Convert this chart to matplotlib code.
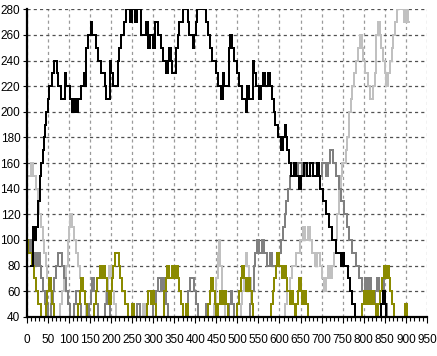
import matplotlib
matplotlib.use("Agg")
import matplotlib.pyplot as plt
from matplotlib.ticker import MultipleLocator

plt.rcParams['font.family'] = ['Liberation Sans Narrow', 'Liberation Sans', 'DejaVu Sans']

# step series: (x, y) breakpoints, held until next point
black_pts = [(10, 80), (15, 110), (19, 100), (22, 110), (27, 130), (32, 150), (35, 160), (38, 170),
             (41, 180), (44, 190), (47, 200), (51, 210), (54, 220), (58, 220),
             (61, 230), (65, 240), (69, 240), (71, 230), (74, 220), (78, 220), (82, 210), (86, 210),
             (90, 230), (94, 220), (98, 220), (102, 210), (107, 200), (112, 210), (117, 200),
             (122, 210), (126, 210), (130, 220), (135, 230), (138, 220), (140, 240),
             (142, 250), (146, 260), (150, 260), (153, 270), (156, 260), (162, 260), (165, 250), (169, 240),
             (173, 240), (177, 230), (181, 230), (185, 220), (189, 210), (193, 210), (197, 240), (201, 230),
             (205, 220), (213, 220), (216, 240), (220, 250), (224, 260), (228, 260), (232, 270), (236, 280),
             (245, 270), (250, 280), (257, 270), (262, 280), (271, 260), (279, 260), (283, 270), (287, 250),
             (293, 260), (299, 250), (305, 270), (311, 260), (315, 260), (319, 250), (323, 240), (327, 240),
             (331, 230), (335, 240), (339, 250), (343, 240), (346, 230), (350, 230), (354, 250), (358, 260),
             (362, 270), (366, 270), (370, 280), (382, 270), (386, 260), (390, 260), (394, 250), (398, 260),
             (401, 270), (405, 280),
             (426, 270), (430, 260), (434, 250), (437, 250), (441, 240), (445, 240), (449, 230), (453, 220),
             (457, 220), (461, 210), (465, 230), (469, 220), (476, 220), (480, 250), (483, 260), (487, 250),
             (491, 240), (496, 240), (500, 230), (504, 220), (508, 220), (512, 210), (516, 210), (520, 200),
             (524, 220), (528, 210), (532, 210), (536, 240), (540, 230), (545, 220), (549, 220), (552, 210),
             (556, 220), (560, 230), (566, 220), (572, 230), (578, 220), (582, 210),
             (586, 200), (590, 190), (596, 180), (601, 180), (604, 170), (608, 180), (612, 190), (615, 180),
             (619, 170), (623, 160), (628, 150), (634, 160), (640, 150), (646, 140), (652, 150), (658, 160),
             (666, 150), (672, 160), (680, 150), (688, 160), (694, 150), (697, 140), (703, 130), (710, 120),
             (717, 110), (724, 100), (731, 100), (735, 90), (741, 90), (745, 80), (749, 90), (753, 80),
             (760, 80), (763, 70), (767, 60), (772, 50), (777, 50), (780, 40), (842, 50), (846, 60),
             (850, 50), (854, 40), (860, 40)]

dgray_pts = [(0, 100), (4, 90), (8, 100), (12, 90), (16, 80), (20, 90), (24, 80), (28, 90), (32, 80),
             (35, 70), (39, 60), (43, 50), (50, 40), (58, 50), (62, 60), (66, 70), (70, 80), (75, 90),
             (83, 80), (89, 70), (94, 60), (98, 50), (103, 40), (112, 50), (116, 60), (126, 50), (130, 40),
             (148, 50), (152, 60), (156, 70), (161, 60), (165, 50), (169, 40), (185, 50), (190, 60),
             (194, 50), (198, 40), (262, 50), (268, 40), (300, 50), (306, 60), (312, 70), (318, 60),
             (322, 70), (327, 60), (331, 50), (335, 40), (380, 50), (384, 60), (388, 70), (394, 70),
             (398, 60), (402, 50), (406, 40), (425, 50), (429, 40), (480, 50), (484, 60), (488, 50),
             (492, 40), (530, 50), (535, 60), (539, 80), (543, 90), (547, 100), (552, 90), (558, 100),
             (564, 90), (571, 80), (577, 90), (582, 80), (596, 90), (604, 100),
             (608, 110), (612, 120), (616, 130), (620, 140), (624, 150), (628, 160), (636, 150), (644, 160),
             (654, 150), (662, 160), (672, 150), (680, 160), (690, 150), (700, 160), (710, 150), (716, 160),
             (720, 170), (727, 160), (733, 150), (737, 150), (741, 140), (745, 130), (749, 130), (753, 120),
             (757, 120), (761, 110), (765, 100), (769, 100), (773, 90), (777, 90), (781, 80), (785, 80),
             (789, 70), (793, 70), (797, 60), (802, 70), (807, 60), (813, 70), (818, 60), (823, 50),
             (827, 60), (832, 70), (837, 60), (843, 70), (847, 60), (851, 50), (855, 40)]

lgray_pts = [(5, 150), (11, 160), (16, 150), (21, 140), (26, 130), (30, 120),
             (34, 110), (38, 100), (42, 90), (45, 80), (49, 70), (53, 60), (58, 50), (64, 40),
             (80, 50), (85, 60), (89, 70), (93, 80), (97, 100), (100, 110), (104, 120), (108, 110),
             (112, 100), (116, 90), (121, 80), (126, 70), (131, 60), (138, 50), (142, 40), (185, 50),
             (189, 60), (193, 70), (196, 80), (200, 70), (203, 60), (207, 50), (211, 40), (250, 50),
             (255, 40), (262, 50), (268, 40), (275, 50), (280, 40), (445, 50), (449, 70), (453, 90),
             (456, 100), (460, 80), (463, 60), (467, 50), (471, 40), (508, 50), (512, 60), (516, 80),
             (520, 90), (524, 80), (528, 70), (532, 50), (536, 40), (612, 50), (618, 60), (624, 70),
             (630, 80), (640, 90), (648, 100), (655, 110), (661, 100), (667, 110), (672, 100), (678, 90),
             (684, 80), (690, 90), (696, 80), (700, 70), (705, 60), (711, 70), (716, 80), (721, 70),
             (725, 80), (729, 90), (733, 100), (737, 120), (741, 140), (745, 150), (749, 160), (753, 160),
             (757, 170), (761, 180), (765, 200), (769, 210), (773, 220), (777, 230), (781, 240), (786, 250),
             (790, 260), (795, 250), (798, 240), (802, 230), (810, 220), (814, 210), (822, 220), (826, 230),
             (830, 260), (834, 270), (838, 260), (842, 250), (846, 240), (850, 230), (854, 220), (858, 230),
             (862, 240), (866, 250), (870, 260), (875, 270), (880, 280), (896, 270), (900, 280), (905, 270),
             (908, 270)]

olive_pts = [(0, 100), (3, 90), (8, 90), (12, 80), (17, 70), (21, 60), (26, 50), (31, 50), (35, 40),
             (45, 50), (49, 60), (53, 70), (57, 60), (61, 50), (66, 40), (122, 50), (126, 60),
             (130, 70), (134, 60), (138, 50), (143, 40), (160, 50), (164, 60), (168, 70), (173, 80),
             (178, 70), (183, 80), (187, 70), (191, 60), (195, 50), (199, 60), (203, 70), (206, 80),
             (209, 90), (215, 90), (218, 80), (222, 70), (227, 60), (233, 50), (240, 40), (250, 50),
             (254, 40), (285, 50), (289, 60), (294, 50), (299, 60), (303, 50), (307, 40), (326, 60),
             (330, 70), (334, 80), (339, 70), (344, 80), (350, 70), (354, 80), (358, 70),
             (362, 60), (366, 50), (370, 40), (378, 50), (382, 40), (430, 50), (434, 60), (438, 70),
             (442, 60), (446, 50), (450, 40), (455, 50), (459, 60), (464, 50), (469, 60), (473, 50),
             (477, 40), (500, 50), (504, 60), (508, 70), (512, 80), (516, 70), (520, 60), (525, 70),
             (530, 60), (534, 50), (538, 40), (580, 50), (584, 60), (588, 70), (591, 80),
             (595, 90), (599, 80), (605, 70), (610, 80), (615, 70), (619, 60), (624, 50),
             (629, 60), (633, 50), (637, 40), (640, 50), (643, 60), (646, 70), (650, 60), (654, 50),
             (659, 60), (663, 50), (667, 40), (796, 50), (800, 60), (805, 50), (810, 60), (815, 50),
             (820, 60), (824, 50), (828, 40), (835, 50), (839, 60), (843, 70), (847, 80), (851, 70),
             (855, 80), (859, 70), (863, 60), (867, 50), (871, 40), (898, 50), (902, 40), (906, 40)]

series = [(lgray_pts, '#c0c0c0'), (dgray_pts, '#808080'), (olive_pts, '#8a8a00'), (black_pts, '#000000')]

fig = plt.figure(figsize=(4.37, 3.56), dpi=100)
ax = fig.add_axes([0.061, 0.110, 0.916, 0.864])

for pts, col in series:
    xs = [p[0] for p in pts]
    ys = [p[1] for p in pts]
    ax.step(xs, ys, where='post', color=col, lw=1.2, antialiased=False)

ax.set_xlim(0, 950)
ax.set_ylim(40, 280)
ax.xaxis.set_major_locator(MultipleLocator(50))
ax.xaxis.set_minor_locator(MultipleLocator(10))
ax.yaxis.set_major_locator(MultipleLocator(20))

ax.grid(axis='y', which='major', color='#505050', linestyle=(0, (2.5, 2.5)), lw=0.9)
ax.grid(axis='x', which='major', color='#9a9a9a', linestyle=(0, (2.5, 2.5)), lw=0.9)

for s in ['top', 'right']:
    ax.spines[s].set_visible(False)
for s in ['left', 'bottom']:
    ax.spines[s].set_linewidth(1.6)
    ax.spines[s].set_zorder(5)

ax.tick_params(axis='x', which='major', length=4, width=0.8, pad=8, labelsize=8.5)
ax.tick_params(axis='x', which='minor', length=3, width=0.8)
ax.tick_params(axis='y', which='major', length=3, width=0.8, pad=1.5, labelsize=8.5)

plt.savefig("out.png", dpi=100)
